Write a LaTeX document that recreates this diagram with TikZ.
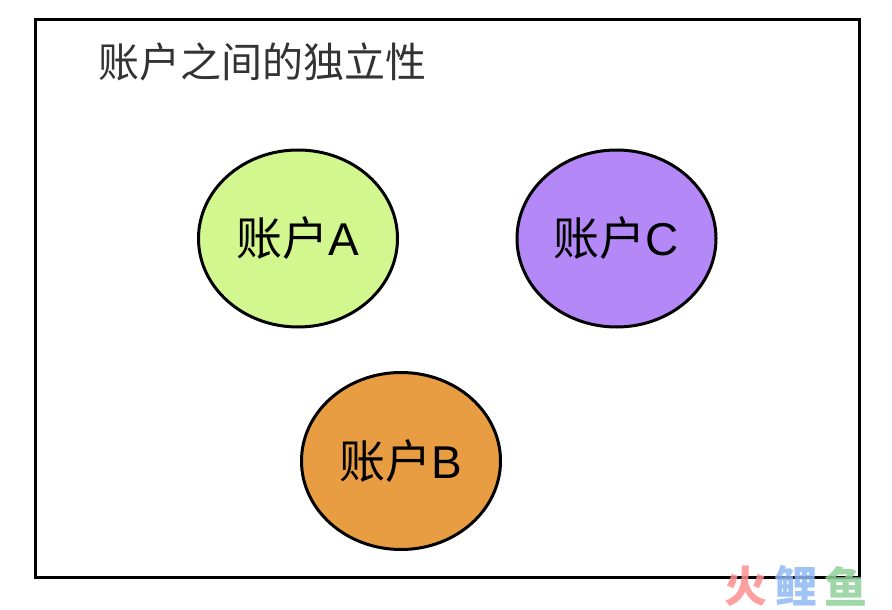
\documentclass[tikz,border=0pt]{standalone}
\usepackage{fontspec}
\setmainfont{Liberation Sans}
\newfontfamily\cjk{Noto Sans CJK SC}
\usetikzlibrary{shapes.geometric}
\definecolor{ca}{HTML}{D3F78F}
\definecolor{cb}{HTML}{E89D42}
\definecolor{cc}{HTML}{B588F8}
\definecolor{wmred}{HTML}{FF8F8F}
\definecolor{wmblue}{HTML}{8FB8F5}
\definecolor{wmgreen}{HTML}{8FD09A}
\tikzset{
acct/.style={ellipse,draw=black,line width=3pt,minimum width=199pt,minimum height=177pt,inner sep=0pt,font=\fontsize{46}{46}\selectfont},
wmark/.style={anchor=center,opacity=0.85,font=\cjk\bfseries\fontsize{43}{43}\selectfont}}
\begin{document}
\begin{tikzpicture}[x=1pt,y=-1pt]
\useasboundingbox (0,0) rectangle (892,610);
\node[draw=black,line width=3pt,minimum width=824pt,minimum height=558pt,inner sep=0pt,anchor=north west] (frame) at (34,18) {};
\node[anchor=west,text=black!80,font=\cjk\fontsize{41}{41}\selectfont] (title) at (95,62) {账户之间的独立性};
\node[acct,fill=ca] (a) at (298,238.5) {{\cjk 账户}A};
\node[acct,fill=cc] (c) at (616.5,238.5) {{\cjk 账户}C};
\node[acct,fill=cb] (b) at (401,461) {{\cjk 账户}B};
\node[wmark,text=wmred] (wm1) at (746,586) {火};
\node[wmark,text=wmblue] (wm2) at (796,586) {鲤};
\node[wmark,text=wmgreen] (wm3) at (846,586) {鱼};
\end{tikzpicture}
\end{document}
